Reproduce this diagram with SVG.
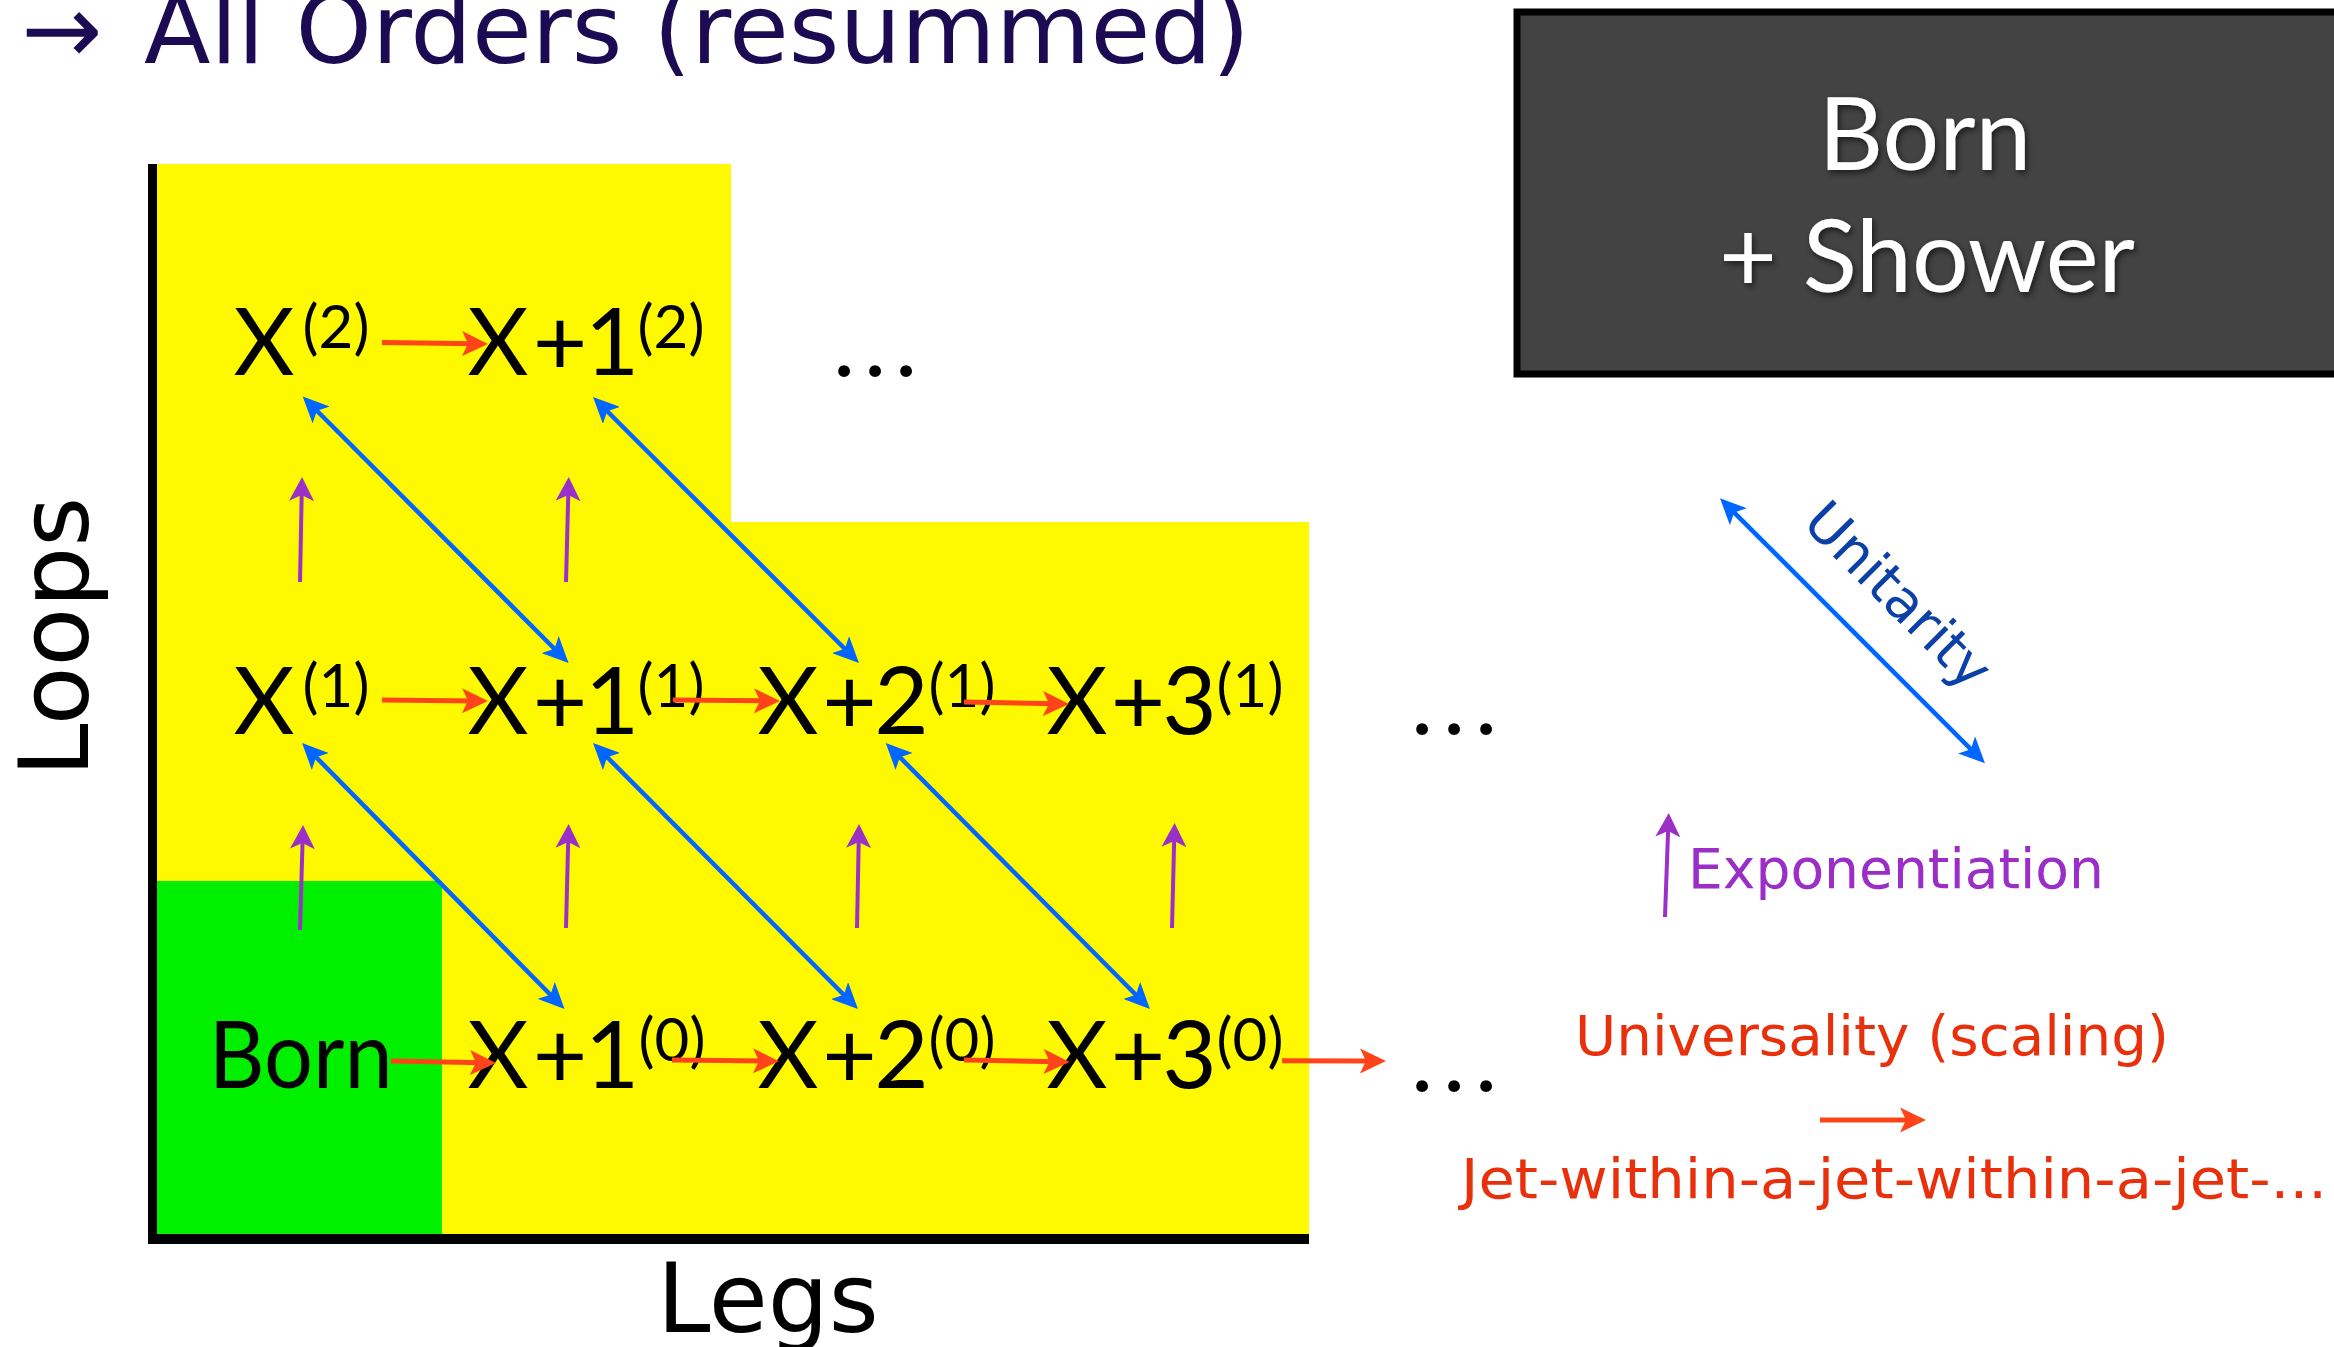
<svg xmlns="http://www.w3.org/2000/svg" width="2334" height="1347" viewBox="0 0 2334 1347">
<defs>
<style>
.n{font-family:Lato,"Open Sans","Noto Sans",sans-serif;font-size:94px;fill:#000;text-anchor:middle}
.s{font-size:60px}
.ax{font-family:"DejaVu Sans",Verdana,sans-serif;font-size:96px;fill:#000}
.lab{font-family:"DejaVu Sans",Verdana,sans-serif;font-size:55px}
.red{stroke:#FF4419;stroke-width:5;fill:none;marker-end:url(#mr)}
.blue{stroke:#0066FF;stroke-width:4.5;fill:none;marker-end:url(#mb);marker-start:url(#mb)}
.pur{stroke:#9B30C8;stroke-width:4;fill:none;marker-end:url(#mp)}
.box{font-family:Lato,"Open Sans",sans-serif;font-size:100px;fill:#fff;text-anchor:middle}
</style>
<marker id="mr" viewBox="0 0 26 25" refX="14" refY="12.5" markerWidth="26" markerHeight="25" markerUnits="userSpaceOnUse" orient="auto"><path d="M0,0 L26,12.5 L0,25 L6,12.5 z" fill="#FF4419"/></marker>
<marker id="mb" viewBox="0 0 26 24" refX="14" refY="12" markerWidth="26" markerHeight="24" markerUnits="userSpaceOnUse" orient="auto-start-reverse"><path d="M0,0 L26,12 L0,24 L6,12 z" fill="#0066FF"/></marker>
<marker id="mp" viewBox="0 0 24 25" refX="12" refY="12.5" markerWidth="24" markerHeight="25" markerUnits="userSpaceOnUse" orient="auto"><path d="M0,0 L24,12.5 L0,25 L6,12.5 z" fill="#9B30C8"/></marker>
<filter id="sh" x="-10%" y="-20%" width="120%" height="140%"><feDropShadow dx="2" dy="3" stdDeviation="3" flood-color="#000" flood-opacity="0.6"/></filter>
</defs>
<rect width="2334" height="1347" fill="#fff"/>

<g id="title">
<text font-family="'DejaVu Sans',Verdana,sans-serif" font-size="97" fill="#1B0B52" y="63"><tspan x="21">→</tspan><tspan x="144" textLength="1106" lengthAdjust="spacingAndGlyphs">All Orders (resummed)</tspan></text>
</g>

<g id="chart-bg">
<polygon points="157,164 731,164 731,522 1309,522 1309,1234 157,1234" fill="#FFF900"/>
<rect x="157" y="881" width="285" height="353" fill="#00F000"/>
<rect x="148" y="164" width="9" height="1080" fill="#000"/>
<rect x="148" y="1234" width="1161" height="10" fill="#000"/>
</g>

<g id="axis-labels">
<text class="ax" transform="translate(88,777) rotate(-90)">Loops</text>
<text class="ax" x="657" y="1332">Legs</text>
</g>

<g id="n-x-2"><text class="n" y="375"><tspan x="264">X</tspan><tspan class="s" x="336" y="348">(2)</tspan></text></g>
<g id="n-x1-2"><text class="n" y="375"><tspan x="498">X</tspan><tspan x="560">+</tspan><tspan x="612">1</tspan><tspan class="s" x="671" y="348">(2)</tspan></text></g>
<g id="dots-2"><text class="n" y="376" x="844 875 906">...</text></g>

<g id="n-x-1"><text class="n" y="733.5"><tspan x="264">X</tspan><tspan class="s" x="336" y="706.5">(1)</tspan></text></g>
<g id="n-x1-1"><text class="n" y="733.5"><tspan x="498">X</tspan><tspan x="560">+</tspan><tspan x="612">1</tspan><tspan class="s" x="671" y="706.5">(1)</tspan></text></g>
<g id="n-x2-1"><text class="n" y="733.5"><tspan x="788">X</tspan><tspan x="849.5">+</tspan><tspan x="901.5">2</tspan><tspan class="s" x="962" y="706.5">(1)</tspan></text></g>
<g id="n-x3-1"><text class="n" y="733.5"><tspan x="1077">X</tspan><tspan x="1138">+</tspan><tspan x="1189.5">3</tspan><tspan class="s" x="1250" y="706.5">(1)</tspan></text></g>
<g id="dots-1"><text class="n" y="734" x="1422 1454 1486">...</text></g>

<g id="n-born"><text class="n" x="300.7" y="1088" textLength="184" lengthAdjust="spacingAndGlyphs">Born</text></g>
<g id="n-x1-0"><text class="n" y="1088"><tspan x="498">X</tspan><tspan x="560">+</tspan><tspan x="612">1</tspan><tspan class="s" x="672" y="1061">(0)</tspan></text></g>
<g id="n-x2-0"><text class="n" y="1088"><tspan x="788">X</tspan><tspan x="849.5">+</tspan><tspan x="901.5">2</tspan><tspan class="s" x="962" y="1061">(0)</tspan></text></g>
<g id="n-x3-0"><text class="n" y="1088"><tspan x="1077">X</tspan><tspan x="1138">+</tspan><tspan x="1189.5">3</tspan><tspan class="s" x="1250" y="1061">(0)</tspan></text></g>
<g id="dots-0"><text class="n" y="1091" x="1422 1454 1486">...</text></g>

<g id="connectors">
<line class="red" x1="382" y1="342.5" x2="476" y2="343.8"/>
<line class="red" x1="382" y1="700" x2="476" y2="700.9"/>
<line class="red" x1="673" y1="700" x2="768" y2="700.9"/>
<line class="red" x1="964" y1="702" x2="1057" y2="703.8"/>
<line class="red" x1="391" y1="1061" x2="484" y2="1062.8"/>
<line class="red" x1="672" y1="1060" x2="767" y2="1061"/>
<line class="red" x1="964" y1="1060" x2="1057.6" y2="1061.8"/>
<line class="red" x1="1282" y1="1060.7" x2="1374" y2="1061"/>
<line class="blue" x1="311.2" y1="405" x2="560.1" y2="654.5"/>
<line class="blue" x1="601.5" y1="405.5" x2="850.5" y2="654.5"/>
<line class="blue" x1="310.5" y1="751.5" x2="556.1" y2="1000.5"/>
<line class="blue" x1="601.5" y1="751.5" x2="849.5" y2="1000.5"/>
<line class="blue" x1="894.2" y1="751.5" x2="1141.5" y2="1000.5"/>
<line class="pur" x1="300" y1="582" x2="301.8" y2="489"/>
<line class="pur" x1="566" y1="582" x2="568.4" y2="489"/>
<line class="pur" x1="300" y1="930" x2="302.7" y2="837"/>
<line class="pur" x1="566" y1="928" x2="568.3" y2="836"/>
<line class="pur" x1="857" y1="928" x2="858.8" y2="836"/>
<line class="pur" x1="1172" y1="928" x2="1174.3" y2="835"/>
</g>

<g id="born-shower">
<rect x="1517" y="12" width="830" height="362" fill="#434343" stroke="#000" stroke-width="7"/>
<g filter="url(#sh)">
<text class="box" x="1925" y="170">Born</text>
<text class="box" x="1927" y="291.7">+ Shower</text>
</g>
</g>

<g id="legend-unitarity">
<line class="blue" x1="1728.5" y1="506.8" x2="1976.5" y2="754.8"/>
<text class="lab" fill="#0B40A8" transform="translate(1801,524.5) rotate(45)">Unitarity</text>
</g>
<g id="legend-exponentiation">
<line class="pur" x1="1665" y1="917" x2="1668.3" y2="825"/>
<text class="lab" fill="#9A2EC6" x="1688" y="888" textLength="416" lengthAdjust="spacingAndGlyphs">Exponentiation</text>
</g>
<g id="legend-universality">
<text class="lab" fill="#E8300C" x="1575" y="1055" textLength="594" lengthAdjust="spacingAndGlyphs">Universality (scaling)</text>
<line class="red" x1="1820" y1="1120" x2="1914" y2="1120"/>
<text class="lab" fill="#E8300C" x="1461" y="1198" textLength="866" lengthAdjust="spacingAndGlyphs">Jet-within-a-jet-within-a-jet-...</text>
</g>
</svg>
